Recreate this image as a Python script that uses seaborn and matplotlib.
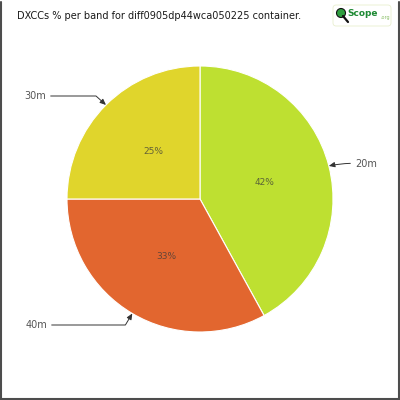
#!/usr/bin/env python3
"""DXCC share per band - pie chart with callout labels."""
import numpy as np
import matplotlib
matplotlib.use('Agg')
import matplotlib.pyplot as plt
from matplotlib.lines import Line2D
from matplotlib.patches import FancyBboxPatch, Circle
import seaborn as sns

# Data
bands = ['20m', '40m', '30m']
shares = [42, 33, 25]
band_colors = ['#bee031', '#e2662f', '#e0d52c']
title = 'DXCCs % per band for diff0905dp44wca050225 container.'

# label text anchors (pixels, y from top)
label_pos = {'20m': (355, 164), '40m': (47, 325), '30m': (46, 96)}
label_conn = {
    '20m': 'arc3,rad=0.08',
    '40m': 'angle,angleA=0,angleB=59,rad=0',
    '30m': 'angle,angleA=0,angleB=-42,rad=0',
}

sns.set_style('white')
plt.rcParams['font.family'] = ['DejaVu Sans']

fig = plt.figure(figsize=(4, 4), dpi=100)
ax = fig.add_axes([0, 0, 1, 1])

center = (200, 201)
radius = 133
wedges, texts, autotexts = ax.pie(
    shares, colors=band_colors, startangle=90, counterclock=False,
    center=center, radius=radius, autopct='%d%%', pctdistance=0.5,
    wedgeprops=dict(edgecolor='white', linewidth=0.8),
    textprops=dict(fontsize=6.5, color='#3a3a3a', alpha=0.75),
    frame=True,
)
ax.set_xlim(0, 400)
ax.set_ylim(0, 400)
ax.set_aspect('equal')
ax.axis('off')

# callouts
for w, band in zip(wedges, bands):
    mid = np.deg2rad((w.theta1 + w.theta2) / 2)
    px = center[0] + radius * np.cos(mid)
    py = center[1] + radius * np.sin(mid)
    tx, ty = label_pos[band]
    ha = 'left' if tx > center[0] else 'right'
    ax.annotate(band, xy=(px, py), xytext=(tx, 400 - ty), ha=ha, va='center',
                fontsize=7, color='#555555',
                arrowprops=dict(arrowstyle='-|>,head_length=0.5,head_width=0.22',
                                color='#333333', lw=0.7,
                                connectionstyle=label_conn[band],
                                shrinkA=1, shrinkB=0))

# title
fig.text(17 / 400, 1 - 16 / 400, title, fontsize=7, color='#1a1a1a',
         ha='left', va='center')

# logo
fig.patches.append(FancyBboxPatch((333 / 400, 1 - 26 / 400), 58 / 400, 21 / 400,
                                  boxstyle='round,pad=0,rounding_size=0.008',
                                  transform=fig.transFigure, facecolor='white',
                                  edgecolor='#e8efcf', lw=0.6))
fig.lines.append(Line2D([343 / 400, 348 / 400], [1 - 16 / 400, 1 - 22 / 400],
                        transform=fig.transFigure, color='#111111', lw=1.6))
fig.patches.append(Circle((341 / 400, 1 - 13 / 400), 4.5 / 400,
                          transform=fig.transFigure, facecolor='#2e9e3e',
                          edgecolor='#111111', lw=0.8))
fig.text(347 / 400, 1 - 14 / 400, 'Scope', fontsize=6.5, color='#1e8a34',
         fontweight='bold', ha='left', va='center')
fig.text(380 / 400, 1 - 17 / 400, '.org', fontsize=3.5, color='#8cc06a',
         ha='left', va='center')

# frame border (left, right, bottom)
for xs, ys in [([0.002, 0.002], [0, 0.995]), ([0.998, 0.998], [0, 0.995]),
               ([0, 1], [0.002, 0.002])]:
    fig.lines.append(Line2D(xs, ys, transform=fig.transFigure,
                            color='#4d4d4d', lw=1.5))

fig.savefig('out.png', dpi=100)
